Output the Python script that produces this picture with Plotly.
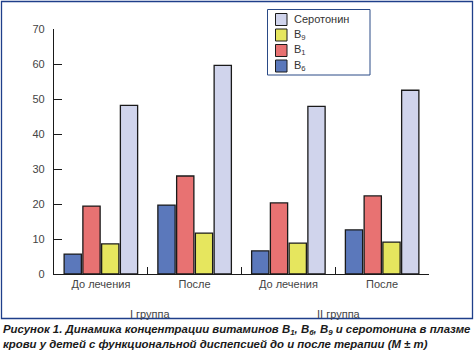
import plotly.graph_objects as go

categories = ["До лечения", "После", "До лечения ", "После "]
cat_labels = ["До лечения", "После", "До лечения", "После"]
group_labels = ["I группа", "II группа"]
b6 = [5.7, 19.7, 6.6, 12.6]
b1 = [19.4, 28.0, 20.3, 22.3]
b9 = [8.6, 11.7, 8.8, 9.1]
serotonin = [48.2, 59.6, 47.9, 52.5]

W, H = 474, 351
L, R, T, B = 54, 45, 29, 77
PW, PH = W - L - R, H - T - B

def px(x):
    return (x - L) / PW

def py(y):
    return 1 - (y - T) / PH

fig = go.Figure()
series = [
    ("B<sub>6</sub>", b6, "#5b78bb"),
    ("B<sub>1</sub>", b1, "#e87272"),
    ("B<sub>9</sub>", b9, "#e6e65e"),
    ("Серотонин", serotonin, "#d0d4ec"),
]
for name, vals, col in series:
    fig.add_trace(go.Bar(x=categories, y=vals, name=name, showlegend=False,
                         marker=dict(color=col, line=dict(color="#1a1a1a", width=1.3))))

fig.update_layout(
    width=W, height=H, autosize=False,
    margin=dict(l=L, r=R, t=T, b=B),
    paper_bgcolor="white", plot_bgcolor="white",
    barmode="group", bargap=0.2, bargroupgap=0.08,
    font=dict(family="Liberation Sans, Arial, sans-serif", size=11, color="#444"),
    showlegend=False,
    xaxis=dict(type="category", showline=True, linecolor="#1a1a1a", linewidth=1.3,
               ticks="inside", ticklen=7, tickcolor="#1a1a1a", tickwidth=1.3,
               tickson="boundaries", showgrid=False, tickvals=categories,
               ticktext=cat_labels, tickfont=dict(size=11, color="#444")),
    yaxis=dict(range=[0, 70], dtick=10, showline=True, linecolor="#1a1a1a", linewidth=1.3,
               ticks="inside", ticklen=8, tickcolor="#1a1a1a", tickwidth=1.3,
               showgrid=False, zeroline=False, tickfont=dict(size=11, color="#444"),
               ticklabelstandoff=6),
)

# outer frame
fig.add_shape(type="rect", xref="paper", yref="paper",
              x0=px(1.5), x1=px(472.5), y0=py(318.5), y1=py(1.5),
              line=dict(color="#1f3f8a", width=1.3), fillcolor="rgba(0,0,0,0)", layer="below")

# legend (manual, reversed order like the reference)
fig.add_shape(type="rect", xref="paper", yref="paper",
              x0=px(267.5), x1=px(370), y0=py(75), y1=py(9.5),
              line=dict(color="#2a4a86", width=1), fillcolor="white")
for i, (name, vals, col) in enumerate(reversed(series)):
    cy = 19.5 + i * 15.5
    fig.add_shape(type="rect", xref="paper", yref="paper",
                  x0=px(275.5), x1=px(287), y0=py(cy + 6), y1=py(cy - 6),
                  line=dict(color="#1a1a1a", width=1), fillcolor=col)
    fig.add_annotation(text=name, xref="paper", yref="paper", x=px(292), y=py(cy),
                       showarrow=False, xanchor="left", yanchor="middle",
                       font=dict(size=11, color="#333"))

for lab, cx in zip(group_labels, [150, 339]):
    fig.add_annotation(text=lab, xref="paper", yref="paper", x=px(cx), y=py(314),
                       showarrow=False, xanchor="center", yanchor="middle",
                       font=dict(size=11, color="#444"))

caption = ("Рисунок 1. Динамика концентрации витаминов B<sub>1</sub>, B<sub>6</sub>, "
           "B<sub>9</sub> и серотонина в плазме<br>крови у детей с функциональной "
           "диспепсией до и после терапии (M ± m)")
fig.add_annotation(text="<b><i>" + caption + "</i></b>", xref="paper", yref="paper",
                   x=px(1), y=py(321), showarrow=False, xanchor="left", yanchor="top",
                   align="left", font=dict(size=11.4, color="#1a1a1a",
                                           family="Liberation Sans, Arial"))

fig.write_html("out.html")
